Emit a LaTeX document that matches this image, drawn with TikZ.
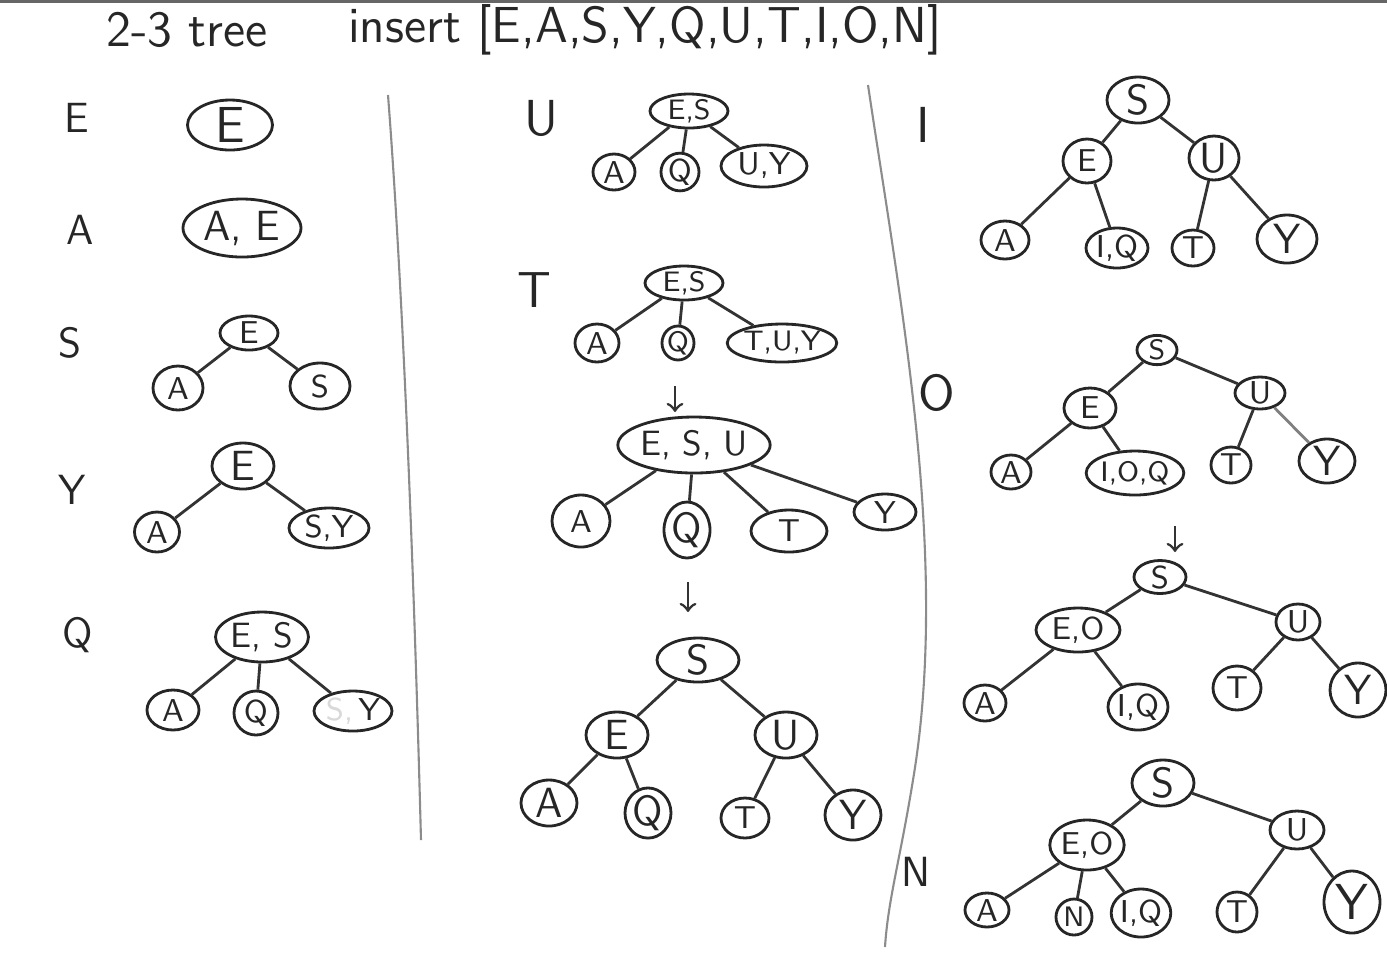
\documentclass[tikz,border=0pt]{standalone}
\usepackage{tikz}
\usetikzlibrary{shapes.geometric}

\begin{document}
\begin{tikzpicture}[x=0.01cm,y=-0.01cm]
    \tikzset{every node/.style={inner sep=0pt, text=black!85}}
    \tikzset{key/.style 2 args={ellipse, draw=black!85, line width=0.8pt, minimum width=#1*0.01cm, minimum height=#2*0.01cm, font=\sffamily\small}}
    \tikzset{steplbl/.style={font=\sffamily\large}}
    \tikzset{edge/.style={draw=black!80, line width=0.8pt}}
    \useasboundingbox (0,0) rectangle (1387,956);
    \draw [black!60, line width=1.2pt] (0,1) -- (1387,1);
    % title
    \node [font=\sffamily\Large] (ttl) at (187,30) {2-3 tree};
    \node [font=\sffamily\Large] (ins) at (645,30) {insert [E,A,S,Y,Q,U,T,I,O,N]};
    % separators
    \draw [black!45, line width=0.6pt] (388,95) .. controls (400,250) and (412,500) .. (421,840);
    \draw [black!45, line width=0.6pt] (868,85) .. controls (900,300) and (950,560) .. (913,780) .. controls (900,860) and (888,900) .. (885,947);
    % step labels
    \node [steplbl] (lE) at (77,118) {E};
    \node [steplbl] (lA) at (80,230) {A};
    \node [steplbl] (lS) at (70,343) {S};
    \node [steplbl] (lY) at (72,490) {Y};
    \node [steplbl] (lQ) at (78,635) {Q};
    \node [steplbl, font=\sffamily\Large] (lU) at (541,118) {U};
    \node [steplbl, font=\sffamily\Large] (lT) at (534,290) {T};
    \node [steplbl, font=\sffamily\Large] (lI) at (923,125) {I};
    \node [steplbl, font=\sffamily\Large] (lO) at (937,393) {O};
    \node [steplbl] (lN) at (916,872) {N};

    % insert E
    \node [key={85}{50}, font=\sffamily\Large] (e-r) at (230,125) {E};
    % insert A
    \node [key={118}{58}, font=\sffamily\large] (a-r) at (242,228) {A, E};
    % insert S
    \node [key={58}{34}] (s-r) at (249,333) {E};
    \node [key={50}{44}] (s-a) at (178,388) {A};
    \node [key={60}{46}] (s-s) at (320,386) {S};
    \draw [edge] (s-r) -- (s-a);
    \draw [edge] (s-r) -- (s-s);
    % insert Y
    \node [key={62}{46}, font=\sffamily\large] (y-r) at (243,466) {E};
    \node [key={45}{40}] (y-a) at (157,532) {A};
    \node [key={80}{40}] (y-sy) at (329,528) {S,Y};
    \draw [edge] (y-r) -- (y-a);
    \draw [edge] (y-r) -- (y-sy);
    % insert Q
    \node [key={93}{50}, font=\sffamily\normalsize] (q-r) at (262,637) {E, S};
    \node [key={52}{40}] (q-a) at (173,710) {A};
    \node [key={44}{44}] (q-q) at (256,713) {Q};
    \node [key={78}{40}] (q-y) at (353,711) {{\color{black!15}S,}\,Y};
    \draw [edge] (q-r) -- (q-a);
    \draw [edge] (q-r) -- (q-q);
    \draw [edge] (q-r) -- (q-y);

    % insert U
    \node [key={78}{34}, font=\sffamily\footnotesize] (u-r) at (689,111) {E,S};
    \node [key={42}{36}] (u-a) at (614,172) {A};
    \node [key={38}{32}] (u-q) at (680,172) {Q};
    \node [key={86}{42}] (u-uy) at (764,166) {U,Y};
    \draw [edge] (u-r) -- (u-a);
    \draw [edge] (u-r) -- (u-q);
    \draw [edge] (u-r) -- (u-uy);
    % insert T
    \node [key={78}{34}, font=\sffamily\footnotesize] (t-r) at (684,283) {E,S};
    \node [key={44}{38}] (t-a) at (597,343) {A};
    \node [key={32}{34}, font=\sffamily\footnotesize] (t-q) at (678,343) {Q};
    \node [key={84}{38}, font=\sffamily\footnotesize] (t-tuy) at (782,343) {T,U,Y};
    \draw [edge] (t-r) -- (t-a);
    \draw [edge] (t-r) -- (t-q);
    \draw [edge] (t-r) -- (t-tuy);
    \coordinate (t-from) at (675,386);
    \coordinate (t-to) at (675,412);
    \draw [edge, ->] (t-from) -- (t-to);
    \node [key={126}{56}, font=\sffamily\normalsize] (t2-r) at (694,445) {E, S, U};
    \node [key={58}{52}] (t2-a) at (581,521) {A};
    \node [key={46}{56}, font=\sffamily\large] (t2-q) at (687,530) {Q};
    \node [key={76}{42}] (t2-t) at (789,531) {T};
    \node [key={62}{36}] (t2-y) at (885,512) {Y};
    \draw [edge] (t2-r) -- (t2-a);
    \draw [edge] (t2-r) -- (t2-q);
    \draw [edge] (t2-r) -- (t2-t);
    \draw [edge] (t2-r) -- (t2-y);
    \coordinate (t2-from) at (688,582);
    \coordinate (t2-to) at (688,612);
    \draw [edge, ->] (t2-from) -- (t2-to);
    \node [key={82}{44}, font=\sffamily\large] (t3-s) at (698,660) {S};
    \node [key={62}{46}, font=\sffamily\large] (t3-e) at (617,735) {E};
    \node [key={62}{46}, font=\sffamily\large] (t3-u) at (786,735) {U};
    \node [key={56}{46}, font=\sffamily\large] (t3-a) at (549,803) {A};
    \node [key={46}{46}, font=\sffamily\large] (t3-q) at (648,813) {Q};
    \node [key={48}{40}] (t3-t) at (745,818) {T};
    \node [key={56}{50}, font=\sffamily\large] (t3-y) at (853,815) {Y};
    \draw [edge] (t3-s) -- (t3-e);
    \draw [edge] (t3-s) -- (t3-u);
    \draw [edge] (t3-e) -- (t3-a);
    \draw [edge] (t3-e) -- (t3-q);
    \draw [edge] (t3-u) -- (t3-t);
    \draw [edge] (t3-u) -- (t3-y);

    % insert I
    \node [key={62}{46}, font=\sffamily\large] (i-s) at (1138,100) {S};
    \node [key={48}{44}] (i-e) at (1087,161) {E};
    \node [key={50}{44}, font=\sffamily\large] (i-u) at (1214,158) {U};
    \node [key={48}{38}] (i-a) at (1005,240) {A};
    \node [key={62}{40}] (i-iq) at (1117,248) {I,Q};
    \node [key={42}{36}] (i-t) at (1193,248) {T};
    \node [key={60}{48}, font=\sffamily\large] (i-y) at (1287,239) {Y};
    \draw [edge] (i-s) -- (i-e);
    \draw [edge] (i-s) -- (i-u);
    \draw [edge] (i-e) -- (i-a);
    \draw [edge] (i-e) -- (i-iq);
    \draw [edge] (i-u) -- (i-t);
    \draw [edge] (i-u) -- (i-y);
    % insert O
    \node [key={40}{28}, font=\sffamily\footnotesize] (o-s) at (1157,350) {S};
    \node [key={52}{40}] (o-e) at (1090,408) {E};
    \node [key={50}{32}] (o-u) at (1260,393) {U};
    \node [key={40}{34}] (o-a) at (1011,472) {A};
    \node [key={86}{44}, font=\sffamily\footnotesize] (o-ioq) at (1135,473) {I,O,Q};
    \node [key={40}{36}] (o-t) at (1231,465) {T};
    \node [key={56}{44}, font=\sffamily\large] (o-y) at (1327,461) {Y};
    \draw [edge] (o-s) -- (o-e);
    \draw [edge] (o-s) -- (o-u);
    \draw [edge] (o-e) -- (o-a);
    \draw [edge] (o-e) -- (o-ioq);
    \draw [edge] (o-u) -- (o-t);
    \draw [edge, black!50] (o-u) -- (o-y);
    \coordinate (o-from) at (1175,526);
    \coordinate (o-to) at (1175,552);
    \draw [edge, ->] (o-from) -- (o-to);
    \node [key={52}{32}] (o2-s) at (1160,577) {S};
    \node [key={84}{44}] (o2-eo) at (1078,630) {E,O};
    \node [key={44}{36}] (o2-u) at (1298,622) {U};
    \node [key={42}{36}] (o2-a) at (985,703) {A};
    \node [key={60}{46}] (o2-iq) at (1138,707) {I,Q};
    \node [key={48}{44}] (o2-t) at (1237,688) {T};
    \node [key={56}{54}, font=\sffamily\large] (o2-y) at (1358,690) {Y};
    \draw [edge] (o2-s) -- (o2-eo);
    \draw [edge] (o2-s) -- (o2-u);
    \draw [edge] (o2-eo) -- (o2-a);
    \draw [edge] (o2-eo) -- (o2-iq);
    \draw [edge] (o2-u) -- (o2-t);
    \draw [edge] (o2-u) -- (o2-y);
    % insert N
    \node [key={62}{46}, font=\sffamily\large] (n-s) at (1163,783) {S};
    \node [key={66}{50}] (n-eo) at (1087,845) {E,O};
    \node [key={54}{38}] (n-u) at (1297,830) {U};
    \node [key={44}{34}] (n-a) at (987,910) {A};
    \node [key={36}{36}, font=\sffamily\footnotesize] (n-n) at (1074,917) {N};
    \node [key={58}{48}] (n-iq) at (1141,913) {I,Q};
    \node [key={40}{40}] (n-t) at (1237,912) {T};
    \node [key={56}{62}, font=\sffamily\Large] (n-y) at (1352,902) {Y};
    \draw [edge] (n-s) -- (n-eo);
    \draw [edge] (n-s) -- (n-u);
    \draw [edge] (n-eo) -- (n-a);
    \draw [edge] (n-eo) -- (n-n);
    \draw [edge] (n-eo) -- (n-iq);
    \draw [edge] (n-u) -- (n-t);
    \draw [edge] (n-u) -- (n-y);
\end{tikzpicture}
\end{document}
